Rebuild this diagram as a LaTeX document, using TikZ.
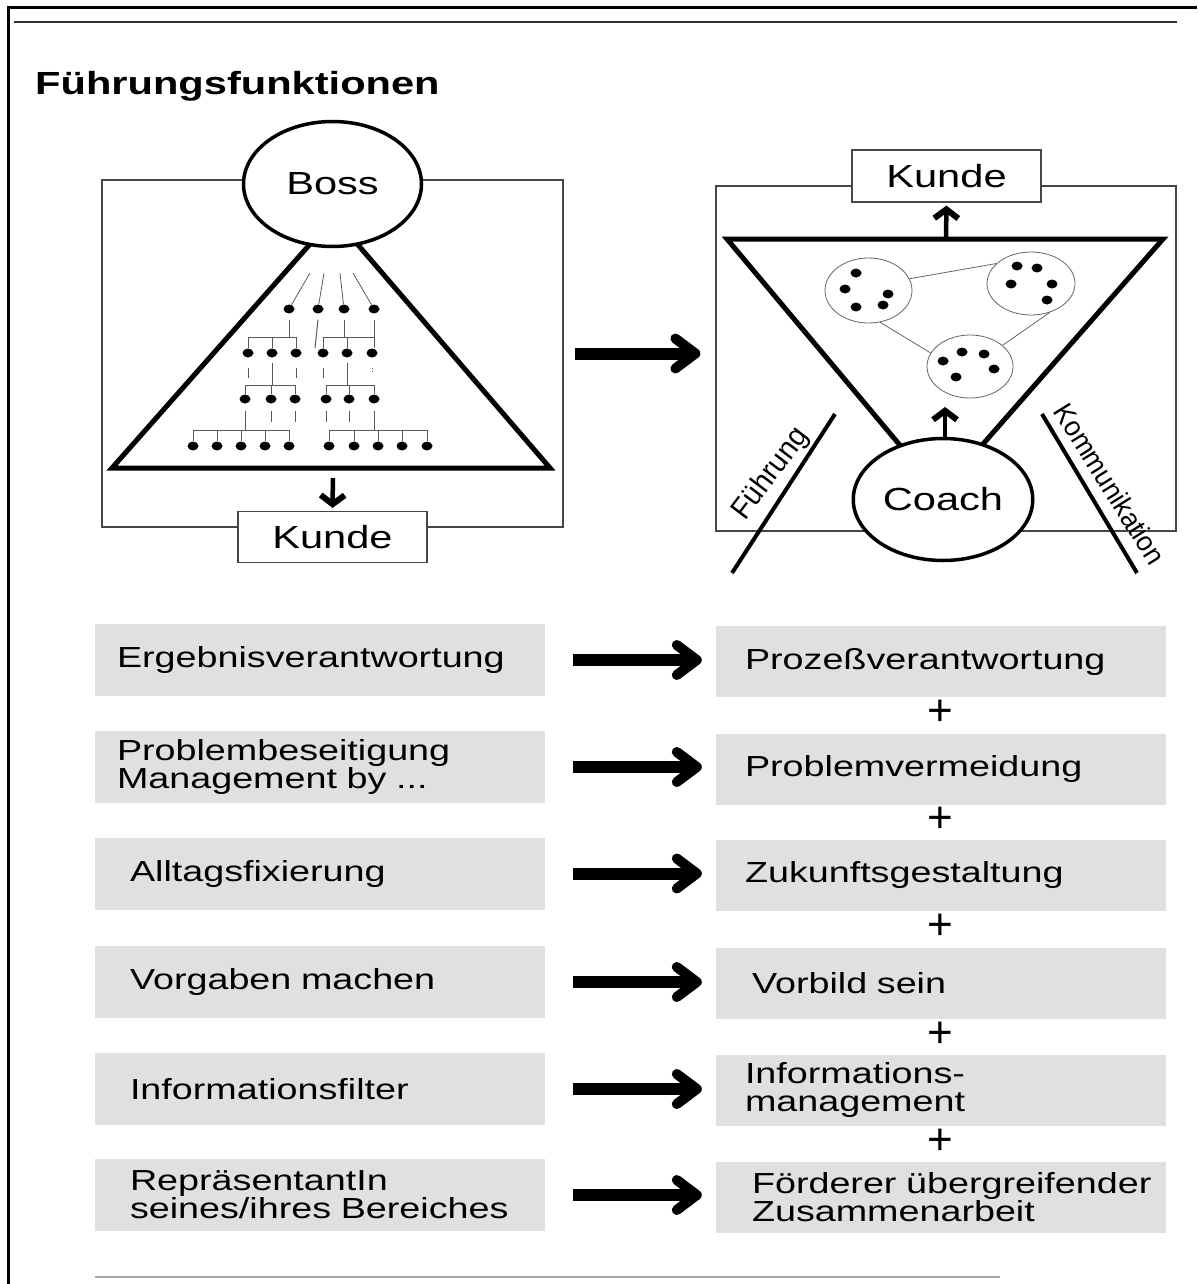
\documentclass[tikz,border=0pt]{standalone}
\usepackage{fontspec}
\setmainfont{Liberation Sans}[FakeStretch=1.3]
\newfontfamily\plainsans{Liberation Sans}
\newfontfamily\narrowsans{Liberation Sans}[FakeStretch=0.95]
\usetikzlibrary{arrows.meta,shapes.geometric,calc}
\definecolor{boxgray}{RGB}{224,224,224}
\definecolor{linegray}{RGB}{70,70,70}
\newcommand{\fbig}{\fontsize{32}{36}\selectfont}
\newcommand{\boxfnt}{\fontsize{29}{28}\selectfont}
\begin{document}
\begin{tikzpicture}[x=1pt,y=-1pt,
  thinframe/.style={draw=linegray, line width=1.2pt, inner sep=0pt},
  dot/.style={ellipse, fill=black, inner sep=0pt, minimum width=11pt, minimum height=9pt},
  hline/.style={draw=black!65, line width=1pt},
  bigell/.style={ellipse, draw=black, line width=3.5pt, fill=white, font=\fbig, minimum width=178pt, minimum height=125pt},
  kunde/.style={draw=linegray, line width=1.2pt, fill=white, minimum width=189pt, minimum height=51pt, inner sep=0pt, font=\fbig},
  cluster/.style={ellipse, draw=black!60, line width=0.8pt, inner sep=0pt},
  clink/.style={draw=black!60, line width=0.8pt},
  bigarrow/.style={line width=12pt, -{Straight Barb[length=20pt,width=30pt,line width=10pt,round]}},
  smallarrow/.style={line width=4.5pt, -{Straight Barb[length=9pt,width=24pt,line width=6pt]}},
  heavy/.style={line width=5pt, line join=miter},
  slash/.style={line width=4pt},
  rotlabel/.style={inner sep=0pt},
  lboxA/.style={fill=boxgray, minimum width=450pt, minimum height=72pt, inner ysep=0pt, inner xsep=22pt, text width=406pt, align=left, font=\boxfnt},
  lboxB/.style={fill=boxgray, minimum width=450pt, minimum height=72pt, inner ysep=0pt, inner xsep=35pt, text width=380pt, align=left, font=\boxfnt},
  rboxA/.style={fill=boxgray, minimum width=450pt, minimum height=71pt, inner ysep=0pt, inner xsep=29pt, text width=392pt, align=left, font=\boxfnt},
  rboxB/.style={fill=boxgray, minimum width=450pt, minimum height=71pt, inner ysep=0pt, inner xsep=36pt, text width=378pt, align=left, font=\boxfnt},
  plus/.style={font=\plainsans\fontsize{44}{44}\selectfont, inner sep=0pt}
]
\useasboundingbox (0,0) rectangle (1197,1284);
\fill[white] (0,0) rectangle (1197,1284);

% outer frame
\draw[line width=3pt] (1197,8) -- (8,8) -- (8,1284);
\draw[line width=1.3pt, black!80] (14,22) -- (1177,22);
\draw[line width=1.5pt, black!35] (95,1277) -- (1000,1277);

\node[anchor=base west, font=\bfseries\fontsize{32}{36}\selectfont, inner sep=0pt] (title) at (35,95) {Führungsfunktionen};

% ---------------- left panel ----------------
\node[thinframe, minimum width=461pt, minimum height=347pt] (LF) at (332.5,353.5) {};
\draw[heavy] (334,217) -- (112,468) -- (550,468) -- cycle;
\node[bigell] (boss) at (332.5,184) {Boss};

% hierarchy dots
\foreach \n/\x in {11/289,12/318,13/344,14/374} \node[dot] (d\n) at (\x,309) {};
\foreach \n/\x in {21/248,22/272,23/296,24/323,25/347,26/372} \node[dot] (d\n) at (\x,353) {};
\foreach \n/\x in {31/245,32/271,33/295,34/326,35/349,36/374} \node[dot] (d\n) at (\x,399) {};
\foreach \n/\x in {41/193,42/217,43/241,44/265,45/289,46/329,47/354,48/378,49/402,50/427} \node[dot] (d\n) at (\x,446) {};

% fan lines from Boss
\coordinate (f1) at (310,273);
\coordinate (f2) at (324,273);
\coordinate (f3) at (340,273);
\coordinate (f4) at (353,273);
\draw[hline, line width=0.8pt] (f1) -- (d11);
\draw[hline, line width=0.8pt] (f2) -- (d12);
\draw[hline, line width=0.8pt] (f3) -- (d13);
\draw[hline, line width=0.8pt] (f4) -- (d14);

% level 1 -> level 2
\draw[hline] ($(d11.south)+(0,6)$) -- (d11 |- 0,338);
\draw[hline] ($(d12.south)+(0,6)$) -- ($(d12 |- 0,348)+(-3,0)$);
\draw[hline] ($(d13.south)+(0,6)$) -- (d13 |- 0,338);
\draw[hline] ($(d14.south)+(0,6)$) -- (d14 |- 0,348);
% level 2 brackets
\draw[hline] (d21.north) -- ++(0,-10.5) -| (d23.north);
\draw[hline] (d22.north) -- ++(0,-10.5);
\draw[hline] (d24.north) -- ++(0,-10.5) -| ($(d26.north)+(2,0)$);
\draw[hline] (d25.north) -- ++(0,-10.5);
% level 2 -> level 3
\draw[hline] ($(d21.south)+(0,10)$) -- ++(0,10);
\draw[hline] ($(d22.south)+(0,5)$) -- (d22 |- 0,386);
\draw[hline] ($(d23.south)+(0,10)$) -- ++(0,10);
\draw[hline] ($(d24.south)+(0,10)$) -- ++(0,10);
\draw[hline] ($(d25.south)+(0,5)$) -- (d25 |- 0,386);
\draw[hline, dotted, line width=0.7pt] ($(d26.south)+(0,10)$) -- ++(0,6);
% level 3 brackets
\draw[hline] (d31.north) -- ++(0,-8.5) -| (d33.north);
\draw[hline] (d32.north) -- ++(0,-8.5);
\draw[hline] (d34.north) -- ++(0,-8.5) -| (d36.north);
\draw[hline] (d35.north) -- ++(0,-8.5);
% level 3 -> level 4
\draw[hline] ($(d31.south)+(0,7)$) -- (d31 |- 0,431);
\foreach \n in {32,33,34,35} \draw[hline] ($(d\n.south)+(0,7)$) -- ++(0,11);
\draw[hline] ($(d36.south)+(0,7)$) -- (d36 |- 0,431);
% level 4 brackets
\draw[hline] (d41.north) -- ++(0,-10.5) -| (d45.north);
\foreach \n in {42,43,44} \draw[hline] (d\n.north) -- ++(0,-10.5);
\draw[hline] (d46.north) -- ++(0,-10.5) -| (d50.north);
\foreach \n in {47,48,49} \draw[hline] (d\n.north) -- ++(0,-10.5);

\node[kunde] (K1) at (332.5,537) {Kunde};
\coordinate (tribase) at (333,470);
\draw[smallarrow, shorten <=8pt, shorten >=3pt] (tribase) -- (K1.north);

% ---------------- right panel ----------------
\node[thinframe, minimum width=460pt, minimum height=345pt] (RF) at (946,358.5) {};
\node[kunde, minimum height=52pt] (K2) at (946.5,176) {Kunde};
\draw[heavy] (940,493) -- (727,239) -- (1163,239) -- cycle;
\node[bigell, minimum width=176pt, minimum height=122pt] (coach) at (943,499.5) {Coach};

\coordinate (funtop) at (946,239);
\draw[smallarrow, shorten <=2pt, shorten >=3pt] (funtop) -- (K2.south);
\coordinate (up2) at (945,407);
\draw[smallarrow] (coach.north -| up2) -- (up2);

% clusters
\node[cluster, minimum width=87pt, minimum height=65pt] (C1) at (868.5,290.5) {};
\node[cluster, minimum width=88pt, minimum height=63pt] (C2) at (1031,283.5) {};
\node[cluster, minimum width=86pt, minimum height=63pt] (C3) at (970,366.5) {};
\draw[clink] (C1.16) -- (C2.150);
\draw[clink] (C1.290) -- (C3.161);
\draw[clink] (C2.303) -- (C3.33);
\foreach \i/\x/\y in {1/856/273,2/845/289,3/888/294,4/856/307,5/883/305,
                      6/1017/266,7/1037/268,8/1011/284,9/1052/284,10/1047/300,
                      11/962/352,12/984/354,13/943/361,14/994/369,15/956/377}
  \node[dot] (cd\i) at (\x,\y) {};

% Führung / Kommunikation
\draw[slash] (732,573) -- (835,414);
\draw[slash] (1042,414) -- (1137,573);
\node[rotlabel, font=\narrowsans\fontsize{30}{32}\selectfont, rotate=53] (fuehr) at (771,474) {Führung};
\node[rotlabel, font=\narrowsans\fontsize{28}{30}\selectfont, rotate=-58] (komm) at (1110,484) {Kommunikation};

% big arrow between panels
\draw[bigarrow, shorten <=11pt, shorten >=15pt] (LF.east) -- (LF.east -| RF.west);

% ---------------- comparison rows ----------------
\node[lboxA] (L1) at (320,660) {Ergebnisverantwortung};
\node[lboxA] (L2) at (320,767) {Problembeseitigung\\\mbox{Management by ...}};
\node[lboxB] (L3) at (320,873.5) {Alltagsfixierung};
\node[lboxB] (L4) at (320,982) {\mbox{Vorgaben machen}};
\node[lboxB] (L5) at (320,1089) {Informationsfilter};
\node[lboxB] (L6) at (320,1195) {RepräsentantIn\\\mbox{seines/ihres Bereiches}};

\node[rboxA] (R1) at (941,661.5) {Prozeßverantwortung};
\node[rboxA] (R2) at (941,769) {Problemvermeidung};
\node[rboxA] (R3) at (941,875) {Zukunftsgestaltung};
\node[rboxB] (R4) at (941,983.5) {\mbox{Vorbild sein}};
\node[rboxA] (R5) at (941,1090) {Informations-\\management};
\node[rboxB] (R6) at (941,1197) {\mbox{Förderer übergreifender}\\Zusammenarbeit};

\foreach \i in {1,...,6}
  \draw[bigarrow, shorten <=28pt, shorten >=14pt] (L\i.east) -- (L\i.east -| R\i.west);

\foreach \i/\j in {1/2,2/3,3/4,4/5,5/6}
  \node[plus] (p\i) at ($(R\i.south)!0.5!(R\j.north)+(-1,-2)$) {+};
\end{tikzpicture}
\end{document}
